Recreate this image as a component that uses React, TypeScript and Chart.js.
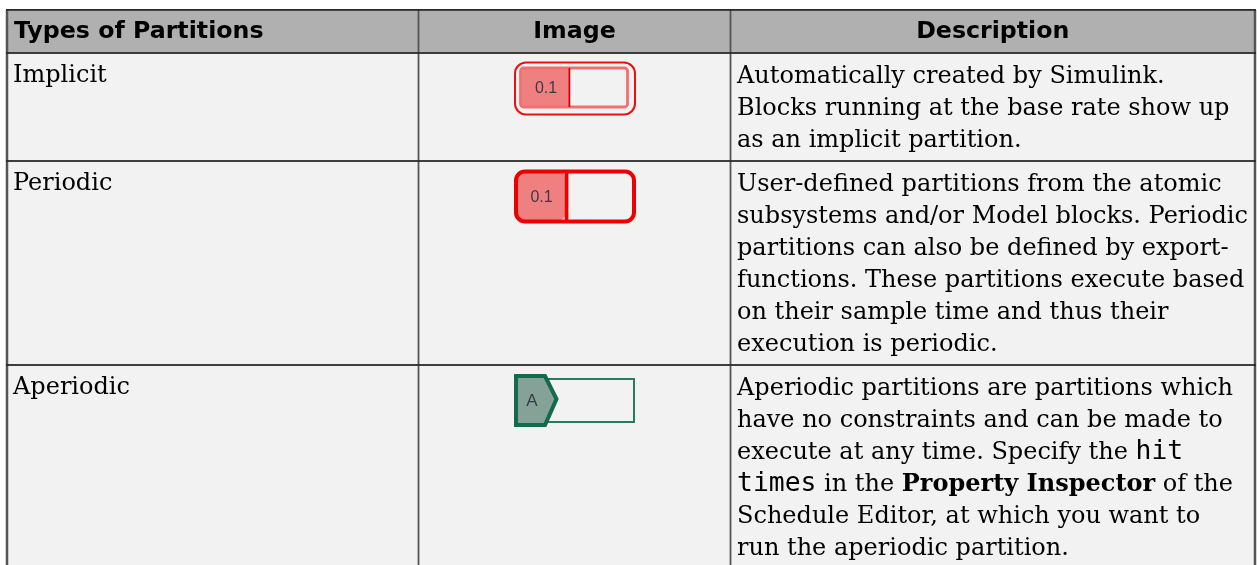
import React, { useEffect, useRef } from "react";
import { Chart, registerables } from "chart.js";

Chart.register(...registerables);

const WIDTH = 1257;
const HEIGHT = 565;

const columnHeaders = ["Types of Partitions", "Image", "Description"];
const columnEdges = [7, 418.5, 730.5, 1255];
const rowEdges = [10, 53, 161, 365, 600];
const partitionTypes = ["Implicit", "Periodic", "Aperiodic"];
const badgeLabels = ["0.1", "0.1", "A"];

type Run = { t: string; f?: "b" | "m" };
const implicitLines: Run[][] = [
  [{ t: "Automatically created by Simulink." }],
  [{ t: "Blocks running at the base rate show up" }],
  [{ t: "as an implicit partition." }],
];
const periodicLines: Run[][] = [
  [{ t: "User-defined partitions from the atomic" }],
  [{ t: "subsystems and/or Model blocks. Periodic" }],
  [{ t: "partitions can also be defined by export-" }],
  [{ t: "functions. These partitions execute based" }],
  [{ t: "on their sample time and thus their" }],
  [{ t: "execution is periodic." }],
];
const aperiodicLines: Run[][] = [
  [{ t: "Aperiodic partitions are partitions which" }],
  [{ t: "have no constraints and can be made to" }],
  [{ t: "execute at any time. Specify the " }, { t: "hit", f: "m" }],
  [{ t: "times", f: "m" }, { t: " in the " }, { t: "Property Inspector", f: "b" }, { t: " of the" }],
  [{ t: "Schedule Editor, at which you want to" }],
  [{ t: "run the aperiodic partition." }],
];
const descriptions = [implicitLines, periodicLines, aperiodicLines];

const BODY = '24px "DejaVu Serif"';
const BOLD = 'bold 24px "DejaVu Serif"';
const MONO = '26.4px "DejaVu Sans Mono"';
const HEAD = 'bold 23.7px "DejaVu Sans"';

function rr(c: CanvasRenderingContext2D, x: number, y: number, w: number, h: number, r: number) {
  c.beginPath();
  c.roundRect(x, y, w, h, r);
}

const tablePlugin = {
  id: "tableText",
  afterDatasetsDraw(chart: any) {
    const c: CanvasRenderingContext2D = chart.ctx;
    const X = (v: number) => chart.scales.x.getPixelForValue(v);
    const Y = (v: number) => chart.scales.y.getPixelForValue(v);
    c.save();
    c.beginPath();
    c.rect(0, 0, WIDTH, HEIGHT);
    c.clip();
    c.textBaseline = "alphabetic";

    // rules
    c.fillStyle = "#555";
    columnEdges.forEach((e, i) => {
      const w = i === 1 || i === 2 ? 1.8 : 2.5;
      c.fillRect(X(e) - w / 2, Y(rowEdges[0]), w, HEIGHT);
    });
    c.fillStyle = "#2b2b2b";
    rowEdges.slice(0, 4).forEach((e, i) => {
      c.fillRect(X(columnEdges[0]) - 1, Y(e) - (i === 0 ? 1 : 0.9), X(columnEdges[3]) - X(columnEdges[0]) + 2, 1.8);
    });

    // header
    c.fillStyle = "#000";
    c.font = HEAD;
    c.textAlign = "left";
    c.fillText(columnHeaders[0], X(columnEdges[0]) + 7, Y(rowEdges[0]) + 28);
    c.textAlign = "center";
    c.fillText(columnHeaders[1], (X(columnEdges[1]) + X(columnEdges[2])) / 2, Y(rowEdges[0]) + 28);
    c.fillText(columnHeaders[2], (X(columnEdges[2]) + X(columnEdges[3])) / 2, Y(rowEdges[0]) + 28);

    // rows
    c.textAlign = "left";
    partitionTypes.forEach((name, i) => {
      const top = Y(rowEdges[i + 1]);
      c.font = BODY;
      c.fillStyle = "#000";
      c.fillText(name, X(columnEdges[0]) + 6, top + 29);
      descriptions[i].forEach((line, li) => {
        let x = X(columnEdges[2]) + 6.5;
        const y = top + 30 + li * 32;
        line.forEach((run) => {
          c.font = run.f === "b" ? BOLD : run.f === "m" ? MONO : BODY;
          c.fillText(run.t, x, y);
          x += c.measureText(run.t).width;
        });
      });
    });

    // badges
    c.filter = "blur(0.5px)";
    const bx = (X(columnEdges[1]) + X(columnEdges[2])) / 2 - 60;
    // implicit
    let top = Y(rowEdges[1]);
    c.lineWidth = 2;
    c.strokeStyle = "#ee1010";
    rr(c, bx + 0.5, top + 9.5, 120, 52, 11);
    c.stroke();
    c.fillStyle = "#f08080";
    c.fillRect(bx + 6, top + 15, 49, 39);
    c.strokeStyle = "#f07070";
    c.lineWidth = 2.8;
    rr(c, bx + 6, top + 15, 107, 39, 3);
    c.stroke();
    c.fillStyle = "#d80000";
    c.fillRect(bx + 54, top + 15, 1.8, 39);
    // periodic
    top = Y(rowEdges[2]);
    c.fillStyle = "#f08080";
    rr(c, bx + 1.5, top + 10.5, 51, 49, 9);
    c.fill();
    c.strokeStyle = "#ee0000";
    c.lineWidth = 4;
    rr(c, bx + 1.5, top + 10.5, 118, 50, 9);
    c.stroke();
    c.fillStyle = "#ee0000";
    c.fillRect(bx + 50.3, top + 10.5, 3.6, 50);
    // aperiodic
    top = Y(rowEdges[3]);
    c.strokeStyle = "#2c7a5e";
    c.lineWidth = 2;
    c.strokeRect(bx + 30, top + 14, 89.5, 43);
    c.beginPath();
    c.moveTo(bx + 1.5, top + 11);
    c.lineTo(bx + 30.5, top + 11);
    c.lineTo(bx + 42, top + 34);
    c.lineTo(bx + 30.5, top + 60);
    c.lineTo(bx + 1.5, top + 60);
    c.closePath();
    c.fillStyle = "#84a297";
    c.fill();
    c.strokeStyle = "#15694d";
    c.lineWidth = 4;
    c.stroke();

    c.fillStyle = "#3a3a4a";
    c.font = '16px "Liberation Sans"';
    c.textAlign = "center";
    c.fillText(badgeLabels[0], bx + 31.5, Y(rowEdges[1]) + 40);
    c.fillText(badgeLabels[1], bx + 27, Y(rowEdges[2]) + 41);
    c.font = '17px "Liberation Sans"';
    c.fillText(badgeLabels[2], bx + 17.5, Y(rowEdges[3]) + 41);
    c.filter = "none";
    c.restore();
  },
};

export default function App() {
  const ref = useRef<HTMLCanvasElement>(null);
  useEffect(() => {
    document.body.style.margin = "0";
    document.body.style.background = "#fff";
    const rowsPerColumn = [0, 1, 2];
    const datasets = rowsPerColumn.map((col) => {
      const left = columnEdges[col];
      const right = columnEdges[col + 1];
      return {
        label: columnHeaders[col],
        data: [0, 1, 2, 3].map((r) => ({ x: (left + right) / 2, y: [rowEdges[r], rowEdges[r + 1]] })),
        barThickness: right - left,
        grouped: false,
        backgroundColor: ["#b0b0b0", "#f2f2f2", "#f2f2f2", "#f2f2f2"],
        borderWidth: 0,
      };
    });
    const chart = new Chart(ref.current!, {
      type: "bar",
      data: { datasets: datasets as any },
      options: {
        animation: false,
        responsive: false,
        layout: { padding: 0 },
        plugins: { legend: { display: false }, tooltip: { enabled: false }, title: { display: false } },
        scales: {
          x: { type: "linear", min: 0, max: WIDTH, display: false, offset: false, grid: { offset: false } },
          y: { type: "linear", min: 0, max: HEIGHT, reverse: true, display: false },
        },
      },
      plugins: [tablePlugin],
    });
    return () => chart.destroy();
  }, []);
  return (
    <canvas
      ref={ref}
      width={WIDTH}
      height={HEIGHT}
      style={{ display: "block", width: WIDTH, height: HEIGHT }}
    />
  );
}
